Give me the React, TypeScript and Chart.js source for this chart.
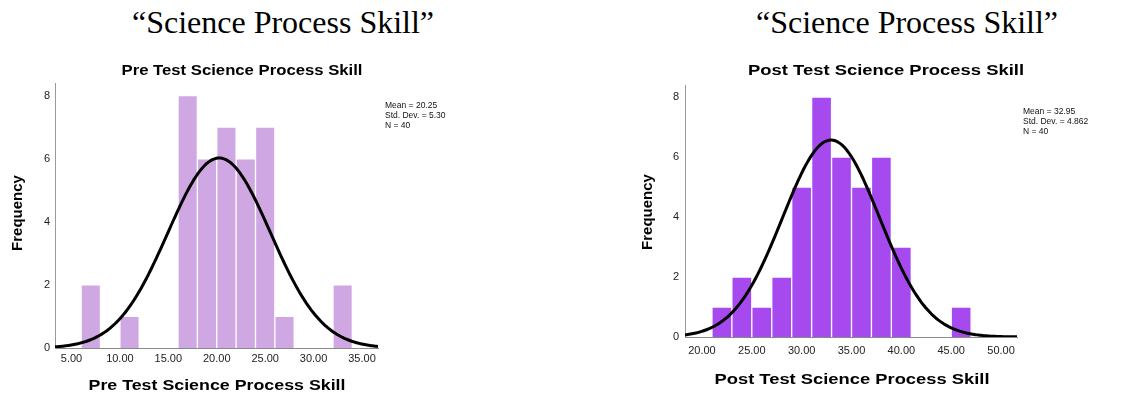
import React, { useEffect, useRef } from "react";
import { Chart, registerables } from "chart.js";

Chart.register(...registerables);

// ---- data ----
const binWidth = 2;
const preBinStarts = [6, 10, 16, 18, 20, 22, 24, 26, 32];
const preCounts = [2, 1, 8, 6, 7, 6, 7, 1, 2];
const postBinStarts = [21, 23, 25, 27, 29, 31, 33, 35, 37, 39, 45];
const postCounts = [1, 2, 1, 2, 5, 8, 6, 5, 6, 3, 1];
const preMean = 20.25;
const preSd = 5.3;
const preN = 40;
const postMean = 32.95;
const postSd = 4.862;
const postN = 40;
const preXTicks = [5, 10, 15, 20, 25, 30, 35];
const postXTicks = [20, 25, 30, 35, 40, 45, 50];
const yTicks = [0, 2, 4, 6, 8];
const preStatLabels = ["Mean = 20.25", "Std. Dev. = 5.30", "N = 40"];
const postStatLabels = ["Mean = 32.95", "Std. Dev. = 4.862", "N = 40"];
const pageTitle = "\u201CScience Process Skill\u201D";
const preTitle = "Pre Test Science Process Skill";
const postTitle = "Post Test Science Process Skill";
const yTitle = "Frequency";

const FONT = '"Liberation Sans", Arial, Helvetica, sans-serif';

function normalCurve(mean: number, sd: number, n: number, bw: number, min: number, max: number) {
  const pts: { x: number; y: number }[] = [];
  const steps = 240;
  const k = (n * bw) / (sd * Math.sqrt(2 * Math.PI));
  for (let i = 0; i <= steps; i++) {
    const x = min + ((max - min) * i) / steps;
    pts.push({ x, y: k * Math.exp(-((x - mean) ** 2) / (2 * sd * sd)) });
  }
  return pts;
}

function stretchedText(
  ctx: CanvasRenderingContext2D,
  text: string,
  cx: number,
  cy: number,
  font: string,
  targetW: number
) {
  ctx.save();
  ctx.font = font;
  const w = ctx.measureText(text).width;
  const sx = targetW / w;
  ctx.translate(cx, cy);
  ctx.scale(sx, 1);
  ctx.textAlign = "center";
  ctx.textBaseline = "middle";
  ctx.fillText(text, 0, 0);
  ctx.restore();
}

const textPlugin = {
  id: "texts",
  afterDraw(chart: any, _args: any, o: any) {
    const ctx = chart.ctx as CanvasRenderingContext2D;
    ctx.save();
    ctx.fillStyle = "#000";
    stretchedText(ctx, o.title, o.titleX, o.titleY, `bold 15px ${FONT}`, o.titleW);
    stretchedText(ctx, o.xTitle, o.xTitleX, o.xTitleY, `bold 15.5px ${FONT}`, o.xTitleW);
    ctx.save();
    ctx.translate(o.yTitleX, o.yTitleY);
    ctx.rotate(-Math.PI / 2);
    ctx.textAlign = "center";
    ctx.textBaseline = "middle";
    ctx.font = `bold 15px ${FONT}`;
    ctx.fillText(yTitle, 0, 0);
    ctx.restore();
    ctx.textAlign = "left";
    ctx.textBaseline = "middle";
    ctx.font = `8.5px ${FONT}`;
    ctx.fillStyle = "#111";
    o.stats.forEach((s: string, i: number) => {
      ctx.fillText(s, o.statsX, o.statsY + i * 10);
    });
    ctx.restore();
  },
};

interface P {
  bins: number[];
  counts: number[];
  mean: number;
  sd: number;
  n: number;
  color: string;
  xMin: number;
  xMax: number;
  xTicks: number[];
  padding: { left: number; right: number; top: number; bottom: number };
  yAxisW: number;
  xAxisH: number;
  xPad: number;
  yPad: number;
  texts: any;
}

function makeConfig(p: P): any {
  return {
    type: "bar",
    data: {
      datasets: [
        {
          type: "line",
          data: normalCurve(p.mean, p.sd, p.n, binWidth, p.xMin, p.xMax),
          borderColor: "#000",
          borderWidth: 3,
          pointRadius: 0,
          tension: 0,
          fill: false,
          order: 0,
        },
        {
          type: "bar",
          data: p.bins.map((s, i) => ({ x: s + binWidth / 2, y: p.counts[i] })),
          backgroundColor: p.color,
          borderColor: "rgba(255,255,255,0.85)",
          borderWidth: 1,
          barPercentage: 1,
          categoryPercentage: 1,
          order: 1,
        },
      ],
    },
    options: {
      animation: false,
      responsive: false,
      devicePixelRatio: 1,
      events: [],
      layout: { padding: p.padding },
      plugins: {
        legend: { display: false },
        tooltip: { enabled: false },
        title: { display: false },
        texts: p.texts,
      },
      scales: {
        x: {
          type: "linear",
          min: p.xMin,
          max: p.xMax,
          offset: false,
          grid: { display: false, drawTicks: false },
          border: { display: true, color: "#8a8a8a", width: 1 },
          ticks: {
            padding: p.xPad,
            autoSkip: false,
            maxRotation: 0,
            color: "#222",
            font: { family: FONT, size: 11 },
            callback: (v: any) => Number(v).toFixed(2),
          },
          afterBuildTicks: (s: any) => {
            s.ticks = p.xTicks.map((v) => ({ value: v }));
          },
          afterFit: (s: any) => {
            s.height = p.xAxisH;
          },
        },
        y: {
          type: "linear",
          min: 0,
          max: 8.4,
          grid: { display: false, drawTicks: false },
          border: { display: true, color: "#9a9a9a", width: 1 },
          ticks: {
            padding: p.yPad,
            color: "#222",
            font: { family: FONT, size: 11 },
            callback: (v: any) => String(v),
          },
          afterBuildTicks: (s: any) => {
            s.ticks = yTicks.map((v) => ({ value: v }));
          },
          afterFit: (s: any) => {
            s.width = p.yAxisW;
          },
        },
      },
    },
    plugins: [textPlugin],
  };
}

function Hist({ left, cfg }: { left: number; cfg: P }) {
  const ref = useRef<HTMLCanvasElement>(null);
  useEffect(() => {
    if (!ref.current) return;
    const chart = new Chart(ref.current, makeConfig(cfg));
    return () => chart.destroy();
  }, []);
  return (
    <canvas
      ref={ref}
      width={562}
      height={397}
      style={{ position: "absolute", left, top: 0, width: 562, height: 397 }}
    />
  );
}

const preCfg: P = {
  bins: preBinStarts,
  counts: preCounts,
  mean: preMean,
  sd: preSd,
  n: preN,
  color: "rgb(207,168,227)",
  xMin: 3.3,
  xMax: 36.65,
  xTicks: preXTicks,
  padding: { left: 0, right: 184, top: 83, bottom: 0 },
  yAxisW: 55,
  xAxisH: 49,
  xPad: 4,
  yPad: 5,
  texts: {
    title: preTitle,
    titleW: 241,
    titleX: 242,
    titleY: 71,
    xTitle: preTitle,
    xTitleW: 257,
    xTitleX: 217,
    xTitleY: 386,
    yTitleX: 18,
    yTitleY: 213,
    stats: preStatLabels,
    statsX: 385,
    statsY: 106,
  },
};

const postCfg: P = {
  bins: postBinStarts,
  counts: postCounts,
  mean: postMean,
  sd: postSd,
  n: postN,
  color: "rgb(166,74,240)",
  xMin: 18.3,
  xMax: 51.6,
  xTicks: postXTicks,
  padding: { left: 0, right: 107, top: 85, bottom: 0 },
  yAxisW: 123,
  xAxisH: 60,
  xPad: 7,
  yPad: 6,
  texts: {
    title: postTitle,
    titleW: 276,
    titleX: 324,
    titleY: 71,
    xTitle: postTitle,
    xTitleW: 275,
    xTitleX: 290,
    xTitleY: 380,
    yTitleX: 86,
    yTitleY: 212,
    stats: postStatLabels,
    statsX: 461,
    statsY: 112,
  },
};

const titleStyle: React.CSSProperties = {
  position: "absolute",
  top: 6,
  transform: "translateX(-50%)",
  whiteSpace: "nowrap",
  fontFamily: '"Liberation Serif", "Times New Roman", serif',
  fontSize: 32,
  lineHeight: "32px",
  color: "#000",
};

export default function App() {
  return (
    <div
      style={{
        position: "absolute",
        left: 0,
        top: 0,
        width: 1124,
        height: 397,
        overflow: "hidden",
        background: "#fff",
      }}
    >
      <div style={{ ...titleStyle, left: 283 }}>{pageTitle}</div>
      <div style={{ ...titleStyle, left: 907 }}>{pageTitle}</div>
      <Hist left={0} cfg={preCfg} />
      <Hist left={562} cfg={postCfg} />
    </div>
  );
}
